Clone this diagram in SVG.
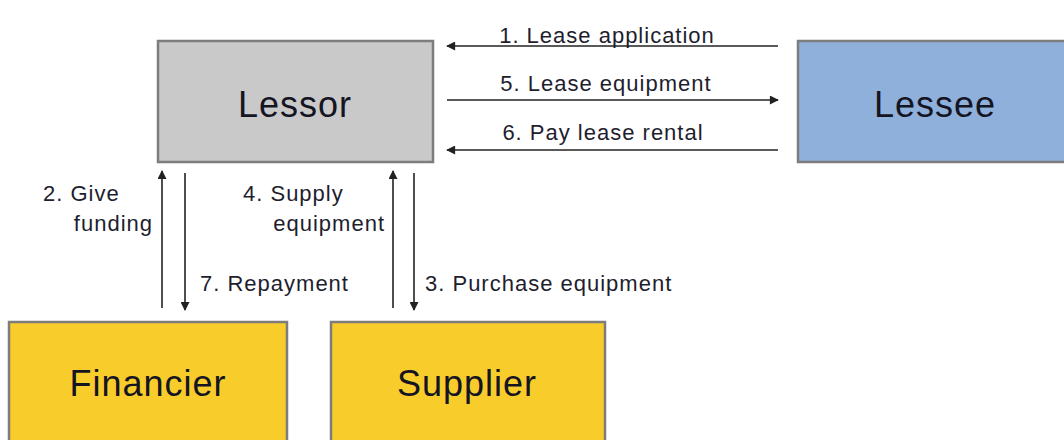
<svg xmlns="http://www.w3.org/2000/svg" width="1064" height="440" viewBox="0 0 1064 440">
<style>
.box{stroke:#7d7d7d;stroke-width:2.5}
.name{font-family:"Liberation Sans",Arial,sans-serif;font-size:36px;letter-spacing:1px;fill:#141423;text-anchor:middle}
.lbl{font-family:"Liberation Sans",Arial,sans-serif;font-size:22px;letter-spacing:1px;fill:#1e1e2e}
.ln{stroke:#222;stroke-width:1.6;fill:none;marker-end:url(#ah)}
</style>
<defs>
<marker id="ah" viewBox="0 0 10 10" refX="9" refY="5" markerWidth="10" markerHeight="9" markerUnits="userSpaceOnUse" orient="auto">
<path d="M0,0 L10,5 L0,10 z" fill="#222"/>
</marker>
</defs>
<rect width="1064" height="440" fill="#ffffff"/>
<g id="lessor"><rect class="box" x="158" y="41" width="275" height="121" fill="#c9c9c9"/><text class="name" x="295" y="117">Lessor</text></g>
<g id="lessee"><rect class="box" x="798" y="41" width="270" height="121" fill="#8fb0da"/><text class="name" x="935" y="117">Lessee</text></g>
<g id="financier"><rect class="box" x="9" y="322" width="278" height="124" fill="#f8cd2b"/><text class="name" x="148" y="396">Financier</text></g>
<g id="supplier"><rect class="box" x="331" y="322" width="274" height="124" fill="#f8cd2b"/><text class="name" x="467" y="396">Supplier</text></g>
<g id="connectors">
<line class="ln" x1="778" y1="46" x2="447" y2="46"/>
<line class="ln" x1="447" y1="100" x2="778" y2="100"/>
<line class="ln" x1="778" y1="150" x2="447" y2="150"/>
<line class="ln" x1="162" y1="308" x2="162" y2="171"/>
<line class="ln" x1="185" y1="173" x2="185" y2="310"/>
<line class="ln" x1="393" y1="308" x2="393" y2="171"/>
<line class="ln" x1="414" y1="173" x2="414" y2="310"/>
</g>
<g id="labels">
<text class="lbl" x="607" y="43" text-anchor="middle">1. Lease application</text>
<text class="lbl" x="606" y="91" text-anchor="middle">5. Lease equipment</text>
<text class="lbl" x="603" y="140" text-anchor="middle">6. Pay lease rental</text>
<text class="lbl" x="43" y="201">2. Give</text>
<text class="lbl" x="153" y="231" text-anchor="end">funding</text>
<text class="lbl" x="243" y="201">4. Supply</text>
<text class="lbl" x="385" y="231" text-anchor="end">equipment</text>
<text class="lbl" x="200" y="291">7. Repayment</text>
<text class="lbl" x="425" y="291">3. Purchase equipment</text>
</g>
</svg>
